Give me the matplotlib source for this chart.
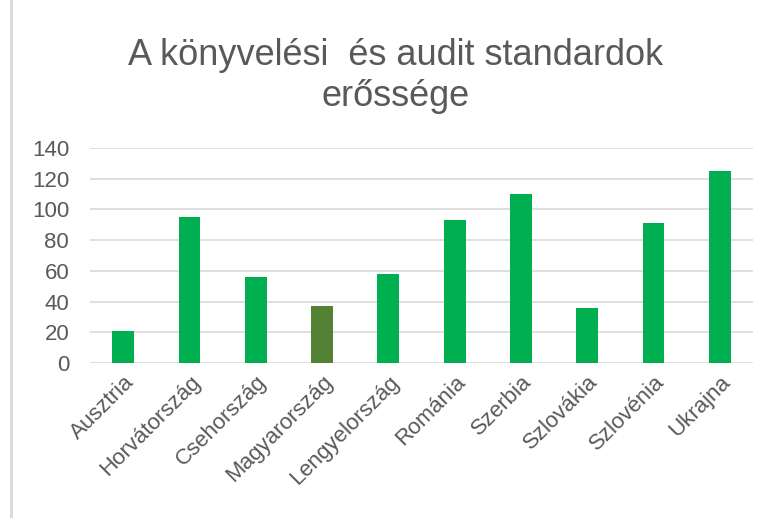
import matplotlib.pyplot as plt
from matplotlib.lines import Line2D

countries = ['Ausztria', 'Horvátország', 'Csehország', 'Magyarország',
             'Lengyelország', 'Románia', 'Szerbia', 'Szlovákia',
             'Szlovénia', 'Ukrajna']
values = [21, 95, 56, 37, 58, 93, 110, 36, 91, 125]
highlight = 'Magyarország'

plt.rcParams['font.family'] = ['Liberation Sans', 'DejaVu Sans']

W, H = 767, 518
fig = plt.figure(figsize=(W / 100, H / 100), dpi=100)
ax = fig.add_axes([90 / W, 1 - 363 / H, (753 - 90) / W, (363 - 148) / H])

colors = ['#548235' if c == highlight else '#00B050' for c in countries]
x = list(range(len(countries)))
ax.bar(x, values, width=0.33, color=colors, zorder=3)

ax.set_xlim(-0.5, len(countries) - 0.5)
ax.set_ylim(0, 140)
ax.set_yticks(range(0, 141, 20))
ax.grid(axis='y', color='#D9D9D9', linewidth=1.2, zorder=0)
for s in ax.spines.values():
    s.set_visible(False)
ax.tick_params(axis='both', length=0, labelsize=16, labelcolor='#595959')
ax.tick_params(axis='y', pad=15)
ax.set_xticks(x)
ax.set_xticklabels(countries, rotation=45, ha='right', rotation_mode='anchor',
                   fontsize=16)
ax.tick_params(axis='x', pad=6)

fig.text(396 / W, 1 - 76 / H, 'A könyvelési  és audit standardok\nerőssége',
         ha='center', va='center', fontsize=26, color='#595959',
         linespacing=1.25)

fig.add_artist(Line2D([11 / W, 11 / W], [0, 1], color='#D9D9D9', linewidth=2,
                      transform=fig.transFigure))

fig.savefig('out.png', dpi=100)
